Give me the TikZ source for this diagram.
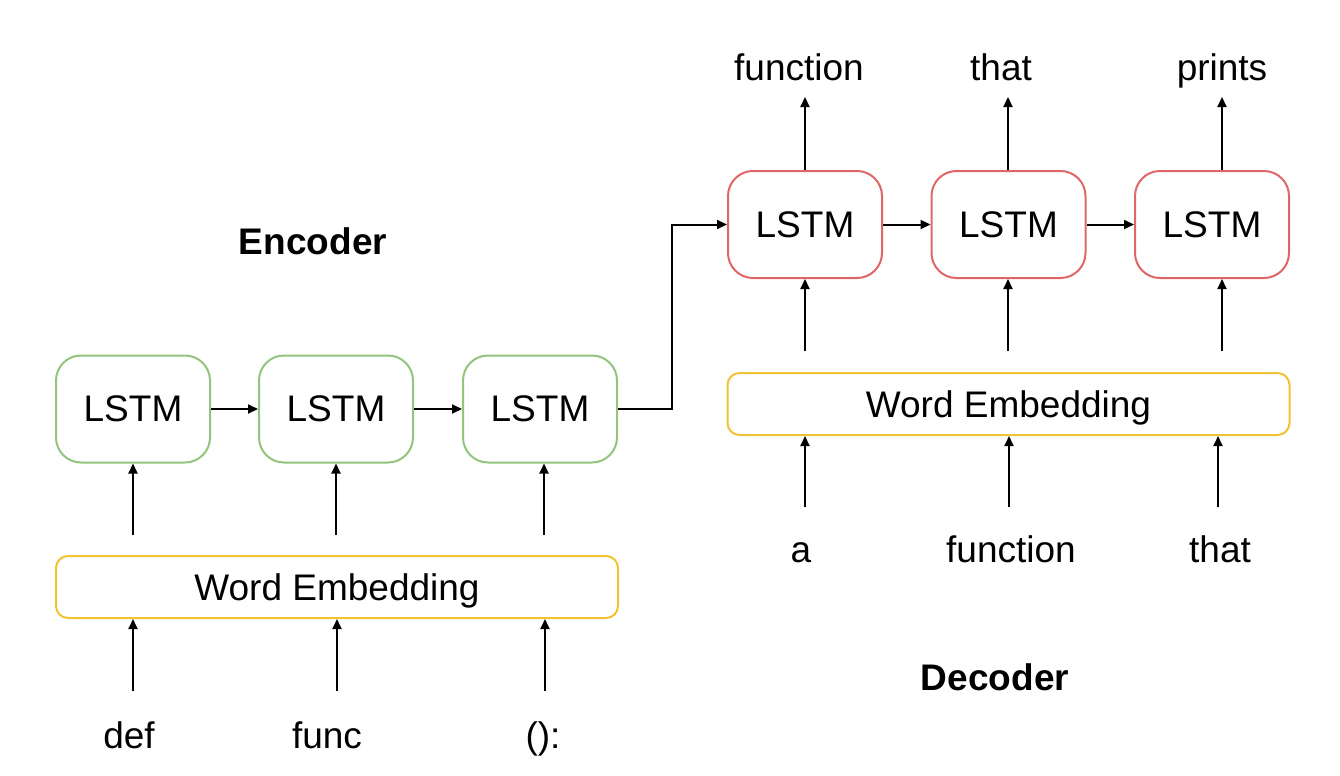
\documentclass[tikz,border=0pt]{standalone}
\usepackage{fontspec}
\setmainfont{Liberation Sans}
\usetikzlibrary{arrows.meta}
\definecolor{encgreen}{HTML}{93C47D}
\definecolor{decred}{HTML}{E06666}
\definecolor{embyellow}{HTML}{F1C232}
\begin{document}
\begin{tikzpicture}[x=0.5pt,y=-0.5pt,
  txt/.style={font=\fontsize{18.5}{22}\selectfont},
  lstm/.style={txt, draw, line width=1pt, rounded corners=12.5pt, minimum width=77pt, minimum height=53.5pt, inner sep=0pt},
  enclstm/.style={lstm, draw=encgreen},
  declstm/.style={lstm, draw=decred},
  embed/.style={txt, draw=embyellow, line width=1pt, rounded corners=6pt, minimum width=281pt, minimum height=31pt, inner sep=0pt, text depth=0pt},
  word/.style={txt, anchor=base, inner sep=0pt},
  title/.style={word, font=\fontsize{18.5}{22}\selectfont\bfseries},
  arr/.style={-{Triangle[length=5pt,width=4.5pt]}, line width=1pt}
]
\useasboundingbox (0,0) rectangle (1340,776);
% encoder
\node[enclstm] (e1) at (133,409) {LSTM};
\node[enclstm] (e2) at (336,409) {LSTM};
\node[enclstm] (e3) at (540,409) {LSTM};
\node[embed] (ee) at (337,587) {Word Embedding};
% decoder
\node[declstm] (d1) at (805,224.5) {LSTM};
\node[declstm] (d2) at (1008.5,224.5) {LSTM};
\node[declstm] (d3) at (1212,224.5) {LSTM};
\node[embed] (de) at (1008.5,404) {Word Embedding};
% labels
\node[word] (w1) at (129,748) {def};
\node[word] (w2) at (327,748) {func};
\node[word] (w3) at (543,748) {():};
\node[word] (v1) at (801,562) {a};
\node[word] (v2) at (1011,562) {function};
\node[word] (v3) at (1220,562) {that};
\node[word] (o1) at (799,80) {function};
\node[word] (o2) at (1001,80) {that};
\node[word] (o3) at (1222,80) {prints};
\node[title] (enc) at (313,254) {Encoder};
\node[title] (dec) at (995,690) {Decoder};
% free ends
\coordinate (ea1) at (133,535);
\coordinate (ea2) at (336,535);
\coordinate (ea3) at (544,535);
\coordinate (ei1) at (133,691);
\coordinate (ei2) at (337,691);
\coordinate (ei3) at (545,691);
\coordinate (da1) at (805,351);
\coordinate (da2) at (1008,351);
\coordinate (da3) at (1222,351);
\coordinate (di1) at (805,507);
\coordinate (di2) at (1009,507);
\coordinate (di3) at (1218,507);
\coordinate (do1) at (805,97);
\coordinate (do2) at (1008,97);
\coordinate (do3) at (1222,97);
\coordinate (bend) at (672,300);
% encoder arrows
\draw[arr] (e1.east) -- (e2.west);
\draw[arr] (e2.east) -- (e3.west);
\foreach \i in {1,2,3} {
  \draw[arr] (ea\i) -- (ea\i |- e\i.south);
  \draw[arr] (ei\i) -- (ei\i |- ee.south);
}
% decoder arrows
\draw[arr] (d1.east) -- (d2.west);
\draw[arr] (d2.east) -- (d3.west);
\foreach \i in {1,2,3} {
  \draw[arr] (da\i) -- (da\i |- d\i.south);
  \draw[arr] (di\i) -- (di\i |- de.south);
  \draw[arr] (do\i |- d\i.north) -- (do\i);
}
% bridge
\draw[arr] (e3.east) -- (e3.east -| bend) -- (bend |- d1.west) -- (d1.west);
\end{tikzpicture}
\end{document}
